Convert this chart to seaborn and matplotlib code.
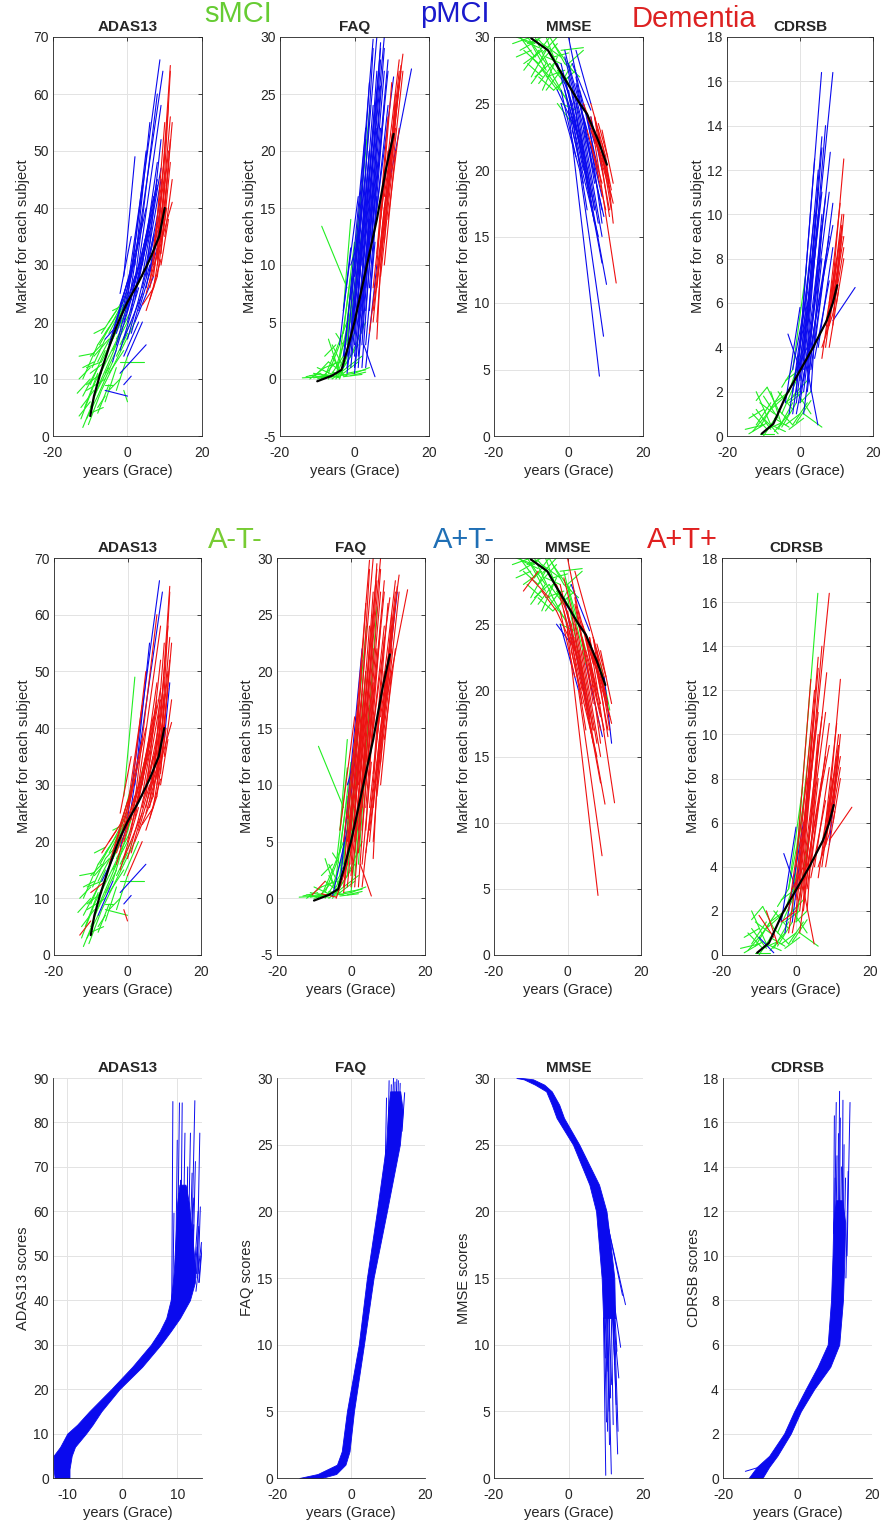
import matplotlib
matplotlib.use("Agg")
import matplotlib.pyplot as plt
import pandas as pd
import seaborn as sns

sns.set_style("white")
plt.rcParams['font.family'] = ['Liberation Sans', 'DejaVu Sans']
plt.rcParams['axes.unicode_minus'] = False

# ---- data ----
markers = ["ADAS13", "FAQ", "MMSE", "CDRSB"]
dx_names = {"S": "sMCI", "P": "pMCI", "D": "Dementia"}
at_names = {"N": "A-T-", "A": "A+T-", "T": "A+T+"}

# subject segments: (x0, y0, x1, y1, diagnosis, AT status)
adas_segs = [
    # sMCI
    (-13.5, 7.5, -10, 10, "S", "N"), (-13, 14, -9, 14.5, "S", "N"), (-12.5, 3, -9, 9, "S", "N"),
    (-12, 1.5, -9.5, 5.5, "S", "N"), (-11, 12, -7, 13, "S", "N"), (-11.5, 5, -8, 11, "S", "N"),
    (-10.5, 2, -7, 8, "S", "N"), (-10, 9, -6, 15, "S", "N"), (-9, 7, -5, 12, "S", "N"),
    (-9.5, 12, -6, 17, "S", "N"), (-8, 4, -5, 9, "S", "N"), (-8, 13, -4, 18, "S", "N"),
    (-7, 10, -3, 16, "S", "N"), (-7.5, 16, -4, 20, "S", "N"), (-6, 6, -3, 12, "S", "N"),
    (-6, 14, -2, 20, "S", "N"), (-5, 18, -1, 23, "S", "N"), (-5, 11, -1, 15, "S", "N"),
    (-4, 15, 0, 20, "S", "N"), (-4, 20, 0, 25, "S", "N"), (-3, 8, 0, 14, "S", "N"),
    (-3, 17, 1, 22, "S", "N"), (-2, 13, 4.5, 13, "S", "N"), (-2, 19, 1, 25, "S", "A"),
    (-1, 16, 2, 20, "S", "N"), (-11, 8, -6, 10, "S", "N"), (-12, 10, -8, 16, "S", "N"),
    (-7, 18, -3, 22, "S", "T"), (-8, 7, -4, 13, "S", "A"), (-13, 3.5, -10, 6, "S", "T"),
    (-1, 8, 0, 6, "S", "T"), (-10, 4, -6.5, 5, "S", "N"),
    (-12.5, 5, -9, 8, "S", "N"), (-12, 7, -8, 12, "S", "N"), (-11, 3, -8, 7, "S", "N"),
    (-11, 9, -7, 11, "S", "N"), (-10, 5, -7, 10, "S", "N"), (-10, 11, -6, 13, "S", "T"),
    (-9, 9, -6, 13, "S", "N"), (-9, 14, -5, 17, "S", "N"), (-8, 10, -5, 14, "S", "N"),
    (-8, 16, -5, 19, "S", "N"), (-7, 8, -4, 12, "S", "N"), (-7, 13, -4, 17, "S", "A"),
    (-6, 11, -3, 15, "S", "N"), (-6, 18, -3, 21, "S", "N"), (-5, 14, -2, 18, "S", "N"),
    (-5, 20, -2, 23, "S", "T"), (-4, 12, -1, 16, "S", "N"), (-4, 17, -1, 21, "S", "N"),
    (-3, 20, 0, 24, "S", "N"), (-3, 14, 0, 18, "S", "N"), (-2, 16, 1, 20, "S", "N"),
    (-2, 21, 1, 24, "S", "T"), (-12, 12, -9, 13, "S", "N"), (-13, 10, -10, 12, "S", "N"),
    (-9, 18, -6, 19, "S", "N"), (-10, 14, -7, 16, "S", "N"), (-6, 9, -4, 9, "S", "N"),
    (-8, 5, -6, 7, "S", "N"), (-5, 8, -2, 10, "S", "N"), (-4, 22, -1, 23, "S", "N"),
    # pMCI
    (-1, 28, 2, 49, "P", "N"), (0, 24, 8.7, 66, "P", "A"), (1, 26, 9.5, 64, "P", "A"),
    (2, 27, 8, 60, "P", "T"), (3, 30, 9, 58, "P", "T"), (-2, 20, 4, 38, "P", "T"),
    (-1, 22, 5, 40, "P", "T"), (0, 20, 6, 36, "P", "T"), (1, 22, 7, 42, "P", "T"),
    (-3, 16, 2, 28, "P", "T"), (-4, 13, 1, 24, "P", "N"), (-5, 16, 0, 27, "P", "T"),
    (2, 24, 8, 45, "P", "T"), (3, 22, 8, 33, "P", "T"), (4, 26, 9, 40, "P", "T"),
    (-6, 8, 0, 7, "P", "N"), (-2, 11, 5, 16, "P", "A"), (-3, 18, 3, 30, "P", "T"),
    (-1, 17, 4, 25, "P", "T"), (5, 28, 9, 52, "P", "T"), (-6, 17, -2, 20, "P", "N"),
    (0, 14, 4, 20, "P", "T"), (1, 18, 6, 30, "P", "T"), (4, 30, 8, 48, "P", "T"),
    (-2, 23, 2, 31, "P", "T"), (2, 20, 7, 28, "P", "T"), (-1, 9, 1, 10.5, "P", "A"),
    (-2, 15, 3, 26, "P", "T"), (-1, 20, 4, 32, "P", "T"), (0, 22, 5, 35, "P", "N"),
    (1, 24, 6, 38, "P", "T"), (2, 25, 7, 40, "P", "T"), (3, 27, 8, 44, "P", "T"),
    (4, 28, 9, 47, "P", "T"), (5, 30, 9, 45, "P", "T"), (-4, 18, 1, 28, "P", "T"),
    (-3, 20, 2, 32, "P", "N"), (6, 32, 9, 42, "P", "T"), (0, 26, 4, 44, "P", "T"),
    (1, 28, 5, 50, "P", "T"), (2, 30, 6, 55, "P", "A"), (-2, 25, 1, 35, "P", "T"),
    (3, 24, 7, 35, "P", "T"), (5, 26, 8, 36, "P", "T"), (0, 17, 3, 24, "P", "T"),
    (-1, 14, 3, 20, "P", "N"), (6, 29, 10, 40, "P", "T"),
    # Dementia
    (8, 32, 11.5, 65, "D", "T"), (9, 35, 11.5, 64, "D", "T"), (7, 30, 10, 55, "D", "T"),
    (8, 31, 11, 50, "D", "T"), (6, 27, 10, 46, "D", "T"), (9, 34, 12, 41, "D", "T"),
    (5, 25, 8, 32, "D", "T"), (6, 24, 9, 31, "D", "T"), (7, 26, 10, 38, "D", "T"),
    (9, 37, 11.5, 56, "D", "T"), (4, 23, 7, 26, "D", "T"), (8, 28, 10.5, 40, "D", "T"),
    (10, 38, 11.5, 48, "D", "A"), (7, 28, 10, 44, "D", "T"), (8, 30, 11, 47, "D", "T"),
    (9, 32, 11.5, 52, "D", "T"), (10, 35, 12, 45, "D", "T"), (6, 26, 9, 35, "D", "T"),
    (7, 33, 10, 49, "D", "T"), (9, 30, 11, 38, "D", "T"), (8, 34, 11, 58, "D", "T"),
    (10, 40, 12, 55, "D", "T"), (5, 22, 8, 28, "D", "T"),
]
faq_segs = [
    # sMCI
    (-14, 0.1, -8, 0.2, "S", "N"), (-12, 0.3, -6, 0.1, "S", "N"), (-10, 0, -5, 0.5, "S", "N"),
    (-9, 0.4, -4, 0.2, "S", "N"), (-8.8, 13.4, -2, 8, "S", "N"), (-8, 0.2, -5, 2.5, "S", "N"),
    (-7, 0.5, -4, 3, "S", "N"), (-6, 0, -2, 1, "S", "N"), (-5, 1, -2, 4, "S", "N"),
    (-6, 2, -3, 0.3, "S", "N"), (-4, 0.3, 0, 0.5, "S", "N"), (-3, 1, 1, 3, "S", "N"),
    (-2, 3, 4.2, 24, "S", "N"), (-4, 2, -1, 9, "S", "N"), (-3, 0.2, 2, 0.4, "S", "N"),
    (-7, 1.5, -3, 0.5, "S", "N"), (-2, 0.5, 3, 0.8, "S", "N"), (-5, 0.2, -1, 6, "S", "A"),
    (-3, 4, 0, 12, "S", "N"), (-10.5, 0.3, -7, 1.5, "S", "T"), (-1, 2, 3, 5, "S", "N"),
    (-8, 1, -4, 1.5, "S", "N"), (-11, 0.1, -7, 0.3, "S", "N"), (-2, 5, 2, 17, "S", "T"),
    (-13, 0.2, -9, 0.5, "S", "N"), (-12, 0, -8, 1, "S", "N"), (-11, 0.5, -7, 0.2, "S", "N"),
    (-10, 1, -6, 0.4, "S", "N"), (-9, 0, -5, 1.5, "S", "N"), (-8, 0.4, -4, 0.1, "S", "T"),
    (-7, 0, -3, 2, "S", "N"), (-6, 0.6, -2, 0.3, "S", "N"), (-5, 0, -1, 2, "S", "N"),
    (-4, 1, 0, 4, "S", "N"), (-4, 0, -1, 3, "S", "T"), (-3, 0.5, 1, 1.5, "S", "N"),
    (-2, 1, 2, 2, "S", "N"), (-1, 0.3, 3, 0.6, "S", "N"), (0, 0.5, 4, 1, "S", "N"),
    (-6, 3, -3, 1, "S", "N"), (-5, 2.5, -2, 5, "S", "N"), (-3, 2, 0, 7, "S", "N"),
    (-2, 4, 1, 10, "S", "N"), (-1, 5, 2, 13, "S", "T"), (-3, 6, -1, 14, "S", "N"),
    (-8, 2, -5, 3, "S", "N"), (-7, 3.5, -4, 0.5, "S", "N"), (-5, 4, -2, 2.5, "S", "N"),
    # pMCI
    (-3, 1, 3, 22, "P", "A"), (-2, 2, 5, 29.8, "P", "T"), (-1, 3, 6, 30, "P", "T"),
    (0, 4, 7, 29, "P", "T"), (1, 5, 8, 30, "P", "T"), (-1, 1, 4, 18, "P", "T"),
    (0, 2, 5, 20, "P", "T"), (1, 1, 6, 22, "P", "T"), (2, 3, 7, 25.7, "P", "N"),
    (-2, 0.5, 2, 12, "P", "T"), (0, 0.5, 3, 10, "P", "N"), (2.5, 3, 5.5, 0.2, "P", "T"),
    (-4, 3, -1, 11.5, "P", "N"), (3, 8, 8, 27, "P", "T"), (4, 10, 9, 28, "P", "T"),
    (-3, 6, 1, 16, "P", "T"), (1, 8, 4, 20, "P", "T"), (3, 3, 5.5, 12, "P", "T"),
    (5, 12, 9, 24, "P", "T"), (2, 10, 6, 25, "P", "T"), (-1, 7, 3, 18, "P", "T"),
    (4, 6, 6, 16, "P", "T"), (8, 15, 15.3, 27.2, "P", "T"), (0, 9, 2, 15, "P", "A"),
    (-1, 10, 1, 12, "P", "A"), (-2, 1, 3, 16, "P", "T"), (-1, 2, 4, 20, "P", "N"),
    (0, 3, 5, 24, "P", "T"), (1, 4, 6, 27, "P", "T"), (2, 6, 7, 28, "P", "T"),
    (3, 6, 7, 22, "P", "T"), (4, 8, 8, 24, "P", "T"), (0, 1, 4, 14, "P", "T"),
    (1, 2, 5, 17, "P", "N"), (2, 1, 6, 19, "P", "T"), (-1, 4, 3, 21, "P", "T"),
    (0, 6, 4, 26, "P", "T"), (1, 7, 5, 29, "P", "T"), (3, 10, 7, 29.5, "P", "T"),
    (4, 12, 8, 29, "P", "T"), (5, 14, 9, 27, "P", "T"), (2, 4, 4, 13, "P", "T"),
    (-3, 2, 1, 13, "P", "N"), (6, 15, 10.5, 26.5, "P", "T"), (3, 1, 6, 10, "P", "T"),
    # Dementia
    (6, 10, 10, 26, "D", "T"), (7, 14, 12, 28, "D", "T"), (8, 16, 13, 28.5, "D", "T"),
    (5, 8, 9, 20, "D", "T"), (6, 5, 8, 14, "D", "T"), (9, 18, 12, 27, "D", "T"),
    (4, 4, 7, 12, "D", "T"), (7, 10, 11, 22, "D", "T"), (8, 12, 11, 25, "D", "T"),
    (6, 3.5, 7, 10, "D", "T"), (10, 20, 12.5, 27, "D", "A"), (5, 6, 9, 16, "D", "T"),
    (7, 12, 11, 24, "D", "T"), (8, 14, 12, 26, "D", "T"), (9, 16, 12.5, 27.5, "D", "T"),
    (6, 8, 10, 21, "D", "T"), (7, 9, 10, 18, "D", "T"), (5, 5, 8, 15, "D", "T"),
    (8, 10, 11, 20, "D", "T"), (10, 18, 13, 27, "D", "T"), (6, 11, 9, 23, "D", "T"),
    (9, 14, 12, 22, "D", "T"),
]
mmse_segs = [
    # sMCI
    (-14, 30, -9, 29.5, "S", "N"), (-13, 29, -8, 29.8, "S", "N"), (-12, 28, -7, 29, "S", "N"),
    (-11, 30, -6, 28, "S", "N"), (-10, 27, -6, 29, "S", "N"), (-9, 30, -4, 27, "S", "N"),
    (-8, 28, -3, 29.5, "S", "N"), (-7, 26, -3, 28.5, "S", "N"), (-6, 30, -2, 27, "S", "N"),
    (0, 28, 4, 29, "S", "N"), (-4, 27, 0, 25, "S", "N"), (-5, 28, -1, 26.5, "S", "N"),
    (-3, 26, 1, 28, "S", "N"), (-8, 26.5, -4, 28, "S", "N"), (-2, 29, 4, 29.2, "S", "N"),
    (-3, 25, 1, 23.5, "S", "A"), (-6, 27, -1, 27.5, "S", "N"), (-10, 28.5, -5, 27, "S", "T"),
    (-11, 29.5, -7, 30, "S", "N"), (-1, 27, 2, 25.5, "S", "N"), (-4, 29.5, 1, 27.5, "S", "N"),
    (-12.5, 29.8, -8, 29.2, "S", "N"), (-7, 29.5, -2, 28.5, "S", "N"),
    (-15, 29.5, -10, 30, "S", "N"), (-14, 28.5, -10, 29, "S", "N"), (-13, 30, -9, 28.5, "S", "N"),
    (-12, 29, -8, 28, "S", "N"), (-12, 27.5, -8, 29, "S", "T"), (-11, 28, -7, 27, "S", "N"),
    (-10, 29.5, -6, 27.5, "S", "N"), (-9, 27, -5, 28, "S", "N"), (-9, 28.5, -5, 30, "S", "N"),
    (-8, 29.8, -4, 28.5, "S", "N"), (-7, 27.5, -3, 26, "S", "T"), (-7, 28.8, -3, 30, "S", "N"),
    (-6, 26, -2, 27.5, "S", "N"), (-6, 28.5, -2, 28, "S", "N"), (-5, 27, -1, 25.5, "S", "N"),
    (-5, 30, -1, 28, "S", "N"), (-4, 26, 0, 27, "S", "N"), (-4, 28.5, 0, 28.8, "S", "N"),
    (-3, 27.5, 1, 26, "S", "N"), (-2, 26.5, 2, 27.5, "S", "N"), (-2, 25, 2, 24.5, "S", "N"),
    (-1, 28, 3, 27, "S", "N"), (-8, 27, -4, 26, "S", "N"), (-10, 26.5, -6, 28, "S", "N"),
    # pMCI
    (0, 24.5, 8.3, 4.5, "P", "T"), (3, 20, 9.4, 7.5, "P", "T"), (1, 25, 9, 13, "P", "T"),
    (2, 24, 10.2, 11.4, "P", "T"), (0, 26, 7, 16, "P", "T"), (-1, 27, 6, 18, "P", "A"),
    (1, 23, 8, 15, "P", "T"), (3, 25, 9, 17, "P", "T"), (-2, 28, 4, 21, "P", "T"),
    (-1, 29, 5, 22, "P", "N"), (0, 30, 4, 24.5, "P", "T"), (2, 27, 7, 19, "P", "T"),
    (4, 24, 9, 18, "P", "T"), (-3, 26, 2, 23, "P", "T"), (5, 24, 8, 19.5, "P", "T"),
    (1, 28, 6, 24.5, "P", "A"), (3, 23, 7, 17, "P", "T"), (-2, 25, 3, 20, "P", "A"),
    (6, 22, 9, 16, "P", "T"), (0, 25, 4, 20, "P", "T"),
    (-2, 27, 3, 22, "P", "T"), (-1, 26, 4, 19, "P", "T"), (0, 27, 5, 20, "P", "N"),
    (1, 26, 6, 18, "P", "T"), (2, 25, 7, 17, "P", "T"), (3, 24, 8, 16, "P", "T"),
    (4, 23, 9, 15, "P", "T"), (5, 22, 9.5, 16.5, "P", "A"), (-3, 28, 1, 25, "P", "T"),
    (-1, 28.5, 3, 24, "P", "T"), (0, 28, 5, 23, "P", "N"), (2, 26.5, 6, 21, "P", "T"),
    (3, 26, 7, 22, "P", "T"), (4, 25, 8, 20, "P", "T"), (6, 24, 9, 20, "P", "T"),
    (1, 24, 5, 17, "P", "T"), (-2, 26, 2, 21, "P", "T"), (2, 29, 6, 25, "P", "T"),
    # Dementia
    (6, 24, 12.8, 11.5, "D", "T"), (7, 23, 11, 17, "D", "T"), (8, 22.5, 11, 19, "D", "T"),
    (5, 24, 9, 21, "D", "T"), (6, 23, 10, 20, "D", "T"), (7, 24, 11, 16.5, "D", "T"),
    (9, 22, 11.5, 18.5, "D", "N"), (4, 25, 8, 22, "D", "T"), (8, 23.5, 10.5, 21, "D", "T"),
    (10, 21, 12, 16, "D", "A"), (6, 25, 10, 21, "D", "T"), (7, 24, 10.5, 19.5, "D", "T"),
    (8, 23, 11.5, 17, "D", "T"), (9, 23, 12, 19, "D", "T"), (5, 23, 9, 19, "D", "T"),
    (6, 22, 10, 17, "D", "T"), (7, 22.5, 11.5, 18, "D", "T"), (9, 21, 12, 17.5, "D", "T"),
]
cdrsb_segs = [
    # sMCI
    (-15, 0.3, -10, 0.5, "S", "N"), (-13, 1, -9, 0.3, "S", "N"), (-12, 0.5, -8, 1.5, "S", "N"),
    (-11, 1.5, -7, 1, "S", "N"), (-10, 0, -6, 1, "S", "N"), (-9, 1, -5, 2, "S", "N"),
    (-8, 0.5, -4, 0.2, "S", "N"), (-7, 1.5, -3, 2, "S", "N"), (-6, 0.3, -2, 1.5, "S", "N"),
    (-5, 1, -1, 2.5, "S", "N"), (-4, 0.5, 0, 1, "S", "N"), (-3, 1.5, 1, 2, "S", "N"),
    (-2, 0.5, 2, 1.5, "S", "N"), (-1, 2, 3, 1, "S", "N"), (-12, 2, -8, 0.5, "S", "N"),
    (-8, 2, -5, 0.5, "S", "T"), (-4, 2.5, 0, 3, "S", "N"), (-2, 3, 1.8, 7.6, "S", "N"),
    (-10, 0.8, -6, 0.1, "S", "A"), (0, 1.5, 3, 2, "S", "N"), (-14, 0.1, -9, 0.6, "S", "N"),
    (-6, 1.2, -2, 0.5, "S", "N"), (1, 1, 6, 0.4, "S", "N"),
    (-14, 0.8, -10, 1.2, "S", "N"), (-13, 0.2, -9, 1, "S", "N"), (-12, 1.2, -8, 0.3, "S", "N"),
    (-11, 0.4, -7, 1.5, "S", "N"), (-10, 1.8, -6, 0.8, "S", "T"), (-9, 0.3, -5, 0.6, "S", "N"),
    (-8, 1.2, -4, 1.8, "S", "N"), (-7, 0.2, -3, 1, "S", "N"), (-6, 2, -2, 1.2, "S", "N"),
    (-5, 0.4, -1, 1.5, "S", "N"), (-4, 1.5, 0, 2, "S", "T"), (-3, 0.3, 1, 0.8, "S", "N"),
    (-2, 1.8, 2, 2.5, "S", "N"), (-1, 0.6, 3, 1.6, "S", "N"), (-9, 2.2, -6, 1.2, "S", "N"),
    (-7, 0.8, -3, 0.4, "S", "N"), (-5, 2.2, -2, 3, "S", "N"), (-3, 2, 0, 3.5, "S", "N"),
    (-11, 0.1, -7, 0.1, "S", "N"), (-12, 1.6, -9, 2.2, "S", "N"),
    # pMCI
    (-1, 2, 5.9, 16.4, "P", "N"), (1, 3, 9, 16.4, "P", "T"), (2, 3, 8.3, 12.8, "P", "T"),
    (0, 2, 6, 11, "P", "T"), (1, 2.5, 7, 10.8, "P", "T"), (-1, 1.5, 4.2, 8.6, "P", "A"),
    (0, 2.5, 5, 10, "P", "T"), (2, 2, 6, 8, "P", "T"), (-2, 1, 3, 7, "P", "T"),
    (-3, 1, 2, 6, "P", "A"), (-4, 1.5, 0, 5.8, "P", "A"), (2, 3, 4.9, 0.5, "P", "T"),
    (3, 4, 8, 9, "P", "T"), (4, 4, 9, 10.5, "P", "T"), (-1, 3, 2, 4, "P", "T"),
    (-3.3, 4.6, 0, 3, "P", "A"), (9, 5.2, 15.1, 6.7, "P", "T"), (1, 1, 4, 5, "P", "T"),
    (0, 4, 4, 12.5, "P", "T"), (2, 5, 6, 13, "P", "T"), (3, 2, 6, 9.5, "P", "T"),
    (-2, 2, 3, 8, "P", "T"), (-1, 2.5, 4, 10, "P", "N"), (0, 3, 5, 12, "P", "T"),
    (1, 3.5, 6, 13.5, "P", "T"), (2, 4, 7, 14, "P", "T"), (3, 4.5, 8, 11, "P", "T"),
    (4, 5, 9, 9.5, "P", "T"), (0, 1.5, 4, 6, "P", "N"), (1, 2, 5, 7.5, "P", "T"),
    (2, 2.5, 6, 10, "P", "T"), (3, 3, 7, 8, "P", "T"), (-1, 1, 3, 4.5, "P", "T"),
    (4, 3.5, 8, 7, "P", "T"), (5, 4, 9, 8.5, "P", "T"), (1, 4, 5, 11, "P", "T"),
    (-2, 3, 2, 6.5, "P", "N"),
    # Dementia
    (8, 5, 12, 12.5, "D", "T"), (8, 5.5, 11.5, 9.5, "D", "T"), (7, 4, 11, 9, "D", "T"),
    (9, 6, 12, 9, "D", "T"), (6, 3.5, 9, 7, "D", "T"), (7, 5, 10, 8, "D", "T"),
    (9, 5, 11, 8.5, "D", "A"), (8, 4, 10.5, 6.5, "D", "T"), (10, 6.5, 12, 10, "D", "T"),
    (8, 5, 11.5, 9, "D", "T"), (9, 5.5, 12, 8.5, "D", "T"), (7, 4.5, 10.5, 7.5, "D", "T"),
    (9, 6.5, 11.5, 10, "D", "T"), (10, 6, 12, 8, "D", "T"), (6, 4, 9, 5.5, "D", "T"),
    (8, 6, 11, 10.5, "D", "T"), (10, 7, 11.5, 9.5, "D", "T"),
]

# group mean curves (black)
adas_mean_x = [-10, -9, -7.5, -5, -2.5, 0, 3, 6, 8.5, 10]
adas_mean_y = [3.5, 7, 10.5, 15.5, 20, 23.5, 27, 31, 35, 40]
faq_mean_x = [-10, -6, -3.5, -2, 0, 3, 6, 8.5, 10.5]
faq_mean_y = [-0.2, 0.3, 0.8, 2.5, 5, 9.5, 14, 18.5, 21.5]
mmse_mean_x = [-10, -5.5, -3, 0, 3, 5, 8, 10.3]
mmse_mean_y = [29.9, 29, 27.8, 26.4, 25, 24.2, 22.2, 20.4]
cdrsb_mean_x = [-10.5, -7.3, -3.6, -0.5, 3.6, 7.3, 9, 10.2]
cdrsb_mean_y = [0.1, 0.55, 1.9, 2.8, 4.0, 5.2, 6.0, 6.8]

# bottom row: simulated score bands (y level, left x, right x) and tail lines
adas_band_y = [0, 2, 5, 7, 10, 12, 15, 20, 25, 30, 33, 36, 40, 44, 47, 52, 57, 62, 66]
adas_band_l = [-12.3, -12.5, -12.5, -11.3, -10, -8.2, -6, -2, 1.8, 5.2, 6.8, 8, 8.8, 9.2,
               9.4, 9.6, 9.8, 10.0, 10.4]
adas_band_r = [-9.6, -9.6, -9.2, -8.6, -6.6, -5.4, -3.8, -0.5, 3.6, 7, 8.8, 10.5, 12.3, 13.2,
               13.3, 12.9, 12.5, 12.1, 11.5]
adas_tails = [(9.0, 40, 9.2, 84.7), (10.0, 45, 10.4, 84.4), (10.6, 45, 10.9, 84.4),
              (12.5, 45, 13.2, 84.9), (13.6, 45, 14.1, 77.6), (11.9, 45, 12.4, 77.6),
              (11.0, 45, 11.4, 77.6), (9.7, 44, 10.0, 76), (12.8, 45, 13.3, 71.2),
              (13.8, 46, 14.2, 61), (14.0, 44, 14.7, 55), (9.2, 42, 9.4, 59.6),
              (10.3, 45, 10.6, 67), (11.4, 45, 11.8, 65.6), (12.2, 45, 12.7, 68.6),
              (13.5, 46, 13.9, 56.6), (10.8, 45, 11.2, 62), (11.8, 45, 12.0, 60),
              (12.6, 45, 13.0, 57), (13.2, 45, 13.6, 52), (13.9, 44, 14.3, 50),
              (11.6, 45, 11.9, 70), (10.1, 45, 10.3, 64), (12.4, 44, 13.0, 63),
              (13.0, 44, 13.8, 60), (13.4, 42, 14.4, 53)]
faq_band_y = [0, 0.3, 1, 2, 5, 10, 15, 20, 25, 27.5, 29]
faq_band_l = [-14, -9, -3.8, -2.5, -1.1, 2.1, 4.3, 7.0, 9.5, 10.0, 10.6]
faq_band_r = [-8, -4, -1.5, -0.4, 0.8, 3.5, 6.1, 9.7, 13.2, 14.0, 13.3]
faq_tails = [(10, 25, 10.3, 29.8), (11, 26, 11.5, 30), (12, 26.5, 12.4, 29.9),
             (13, 27, 13.3, 29.6), (13.8, 26, 14.5, 28.9), (9.3, 24, 9.6, 28.5),
             (10.6, 26, 10.9, 29.5), (11.6, 26, 11.9, 29.7), (12.5, 26, 12.8, 29.8)]
mmse_band_y = [30, 29.9, 29.5, 29, 28, 27, 25, 22, 20, 17, 15, 12]
mmse_band_l = [-14, -12, -9, -6, -4.5, -3.2, 1.2, 5.6, 7.4, 8.3, 8.9, 9.3]
mmse_band_r = [-12.5, -9.5, -6.5, -4.5, -2.5, -1.2, 2.9, 8.2, 10.2, 11.5, 12.3, 12.5]
mmse_tails = [(8.5, 21.5, 15.3, 13), (9, 21, 14.5, 13.7), (9.5, 20, 13.5, 7.5),
              (9.2, 19, 14.0, 9.8), (9.4, 12, 10.0, 0.2), (10.5, 12, 11.5, 0.3),
              (12.0, 12, 13.2, 1.8), (10.5, 12, 11.0, 2.5), (11.5, 12, 12.0, 4.0),
              (9.6, 12, 10.2, 4.2), (12, 12, 12.8, 5.5), (11, 12, 11.3, 6),
              (12.3, 12, 13.3, 3.5), (10, 12, 10.5, 3.5), (9.8, 12, 10.6, 8),
              (10.8, 12, 11.6, 7), (11.8, 12, 12.4, 8.5), (9.5, 12, 9.9, 9),
              (12.5, 12, 13.0, 9.5), (10.2, 12, 10.9, 5)]
cdrsb_band_y = [0, 0.5, 1, 2, 3, 4, 5, 6, 8, 10, 11.5, 12.5]
cdrsb_band_l = [-13.1, -10.9, -7.6, -3.6, -0.9, 2.2, 5.4, 8.1, 9.0, 9.4, 9.6, 10.3]
cdrsb_band_r = [-9.4, -7.6, -5.4, -1.8, 0.9, 4.5, 8.8, 11.2, 12.2, 12.6, 12.8, 12.0]
cdrsb_tails = [(10, 11, 10.4, 16.9), (11, 11, 11.3, 17.4), (12, 11, 12.2, 17.0),
               (13.3, 10, 14.1, 16.9), (13.0, 9, 13.6, 13.8), (9.7, 11, 9.9, 16.3),
               (10.8, 11, 11.0, 15.5), (12.3, 11, 12.5, 15.0), (-14, 0.3, -10, 0.5),
               (10.3, 11, 10.6, 14.5), (11.5, 11, 11.8, 14), (12.6, 11, 12.9, 13.5),
               (9.9, 11, 10.1, 13.5), (11.2, 11, 11.5, 16.2)]

# ---- styling ----
GREEN, BLUE, RED = "#22ee22", "#0a0aee", "#ee1111"
dx_pal = {"sMCI": GREEN, "pMCI": BLUE, "Dementia": RED}
at_pal = {"A-T-": GREEN, "A+T-": BLUE, "A+T+": RED}
ylims = {"ADAS13": (0, 70, 10), "FAQ": (-5, 30, 5), "MMSE": (0, 30, 5), "CDRSB": (0, 18, 2)}
TXT = "#262626"

W, H = 883, 1526
fig = plt.figure(figsize=(W / 100, H / 100), dpi=100)


def add_ax(l, r, t, b):
    return fig.add_axes([l / W, 1 - b / H, (r - l) / W, (b - t) / H])


def style(ax, title, ylabel, box=True):
    ax.set_title(title, fontsize=11, fontweight="bold", pad=4)
    ax.set_xlabel("years (Grace)", fontsize=10.5, color=TXT, labelpad=3)
    ax.set_ylabel(ylabel, fontsize=10.5, color=TXT, labelpad=2)
    ax.grid(True, color="#e3e3e3", lw=0.7)
    ax.set_axisbelow(True)
    ax.tick_params(direction="in", length=3, width=0.6, labelsize=10,
                   colors=TXT, top=box, right=box, pad=3)
    ax.tick_params(axis="x", pad=7)
    for side, sp in ax.spines.items():
        sp.set_color(TXT)
        sp.set_linewidth(0.6)
        if not box and side in ("top", "right"):
            sp.set_visible(False)


def seg_frame(segs):
    rows = []
    for i, (x0, y0, x1, y1, dx, at) in enumerate(segs):
        for x, y in ((x0, y0), (x1, y1)):
            rows.append({"subject": i, "x": x, "y": y, "dx": dx_names[dx], "at": at_names[at]})
    return pd.DataFrame(rows)


def tail_frame(tails):
    rows = []
    for i, (x0, y0, x1, y1) in enumerate(tails):
        rows.append({"subject": i, "x": x0, "y": y0})
        rows.append({"subject": i, "x": x1, "y": y1})
    return pd.DataFrame(rows)


all_segs = [adas_segs, faq_segs, mmse_segs, cdrsb_segs]
means = [(adas_mean_x, adas_mean_y), (faq_mean_x, faq_mean_y),
         (mmse_mean_x, mmse_mean_y), (cdrsb_mean_x, cdrsb_mean_y)]

cols_r1 = [(53, 202), (280, 429), (494, 643), (727, 873)]
cols_r2 = [(54, 201), (277, 425), (494, 641), (722, 870)]
cols_r3 = [(53, 202), (277, 425), (494, 643), (723, 872)]

# rows 1 and 2: same subjects, coloured by diagnosis and by AT status
for (top, bot, cols, hue, pal, order) in [
        (37, 436, cols_r1, "dx", dx_pal, ["sMCI", "pMCI", "Dementia"]),
        (558, 955, cols_r2, "at", at_pal, ["A-T-", "A+T-", "A+T+"])]:
    for k, name in enumerate(markers):
        ax = add_ax(cols[k][0], cols[k][1], top, bot)
        df = seg_frame(all_segs[k])
        sns.lineplot(data=df, x="x", y="y", hue=hue, hue_order=order, palette=pal,
                     units="subject", estimator=None, sort=False, lw=0.8,
                     legend=False, ax=ax)
        sns.lineplot(x=means[k][0], y=means[k][1], color="black", lw=1.6,
                     sort=False, estimator=None, ax=ax)
        lo, hi, step = ylims[name]
        ax.set_xlim(-20, 20)
        ax.set_xticks([-20, 0, 20])
        ax.set_ylim(lo, hi)
        ax.set_yticks(range(lo, hi + 1, step))
        style(ax, name, "Marker for each subject")

# row 3: simulated score bands
bands = [(adas_band_y, adas_band_l, adas_band_r, adas_tails, (0, 90, 10)),
         (faq_band_y, faq_band_l, faq_band_r, faq_tails, (0, 30, 5)),
         (mmse_band_y, mmse_band_l, mmse_band_r, mmse_tails, (0, 30, 5)),
         (cdrsb_band_y, cdrsb_band_l, cdrsb_band_r, cdrsb_tails, (0, 18, 2))]
for k, name in enumerate(markers):
    by, bl, br, tails, (lo, hi, step) = bands[k]
    ax = add_ax(cols_r3[k][0], cols_r3[k][1], 1078, 1478)
    ax.fill_betweenx(by, bl, br, color=BLUE, lw=0.6, ec=BLUE)
    sns.lineplot(data=tail_frame(tails), x="x", y="y", units="subject",
                 estimator=None, sort=False, color=BLUE, lw=0.7, ax=ax)
    if name == "ADAS13":
        ax.set_xlim(-12.6, 14.5)
        ax.set_xticks([-10, 0, 10])
    else:
        ax.set_xlim(-20, 20)
        ax.set_xticks([-20, 0, 20])
    ax.set_ylim(lo, hi)
    ax.set_yticks(range(lo, hi + 1, step))
    style(ax, name, name + " scores", box=False)

# group labels
for txt, x, y, c in [("sMCI", 238, 14, "#66cc33"), ("pMCI", 455, 14, "#1a1acc"),
                     ("Dementia", 694, 19, "#dd2222"), ("A-T-", 235, 540, "#77cc33"),
                     ("A+T-", 464, 540, "#1f6fb5"), ("A+T+", 682, 540, "#e02020")]:
    fig.text(x / W, 1 - y / H, txt, color=c, fontsize=21, ha="center", va="center")

fig.savefig("out.png", dpi=100)
